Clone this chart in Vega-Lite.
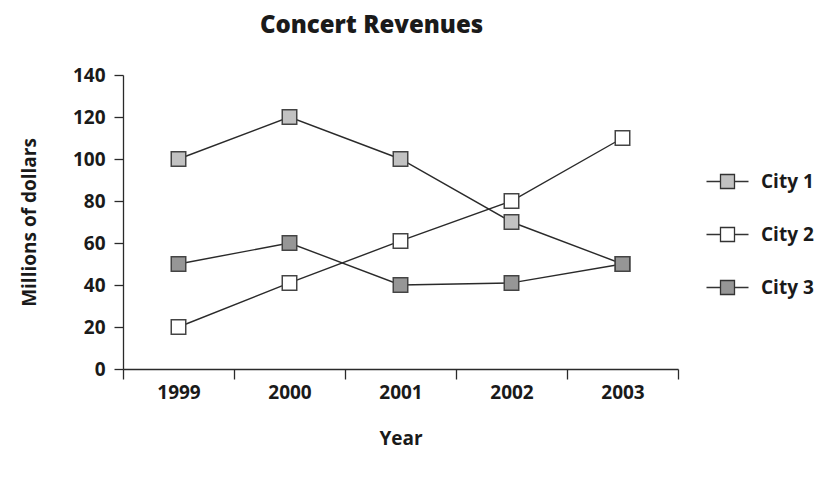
{
  "$schema": "https://vega.github.io/schema/vega-lite/v6.json",
  "autosize": {"type": "none"},
  "padding": {"left": 123, "top": 75, "right": 144, "bottom": 108},
  "width": 555,
  "height": 294,
  "background": "white",
  "title": {
    "text": "Concert Revenues",
    "font": "Open Sans",
    "fontSize": 24,
    "fontWeight": 800,
    "color": "#1a1a1a",
    "anchor": "middle",
    "dx": -29,
    "offset": 28
  },
  "data": {
    "values": [
      {"year": "1999", "city": "City 1", "revenue": 100},
      {"year": "2000", "city": "City 1", "revenue": 120},
      {"year": "2001", "city": "City 1", "revenue": 100},
      {"year": "2002", "city": "City 1", "revenue": 70},
      {"year": "2003", "city": "City 1", "revenue": 50},
      {"year": "1999", "city": "City 2", "revenue": 20},
      {"year": "2000", "city": "City 2", "revenue": 41},
      {"year": "2001", "city": "City 2", "revenue": 61},
      {"year": "2002", "city": "City 2", "revenue": 80},
      {"year": "2003", "city": "City 2", "revenue": 110},
      {"year": "1999", "city": "City 3", "revenue": 50},
      {"year": "2000", "city": "City 3", "revenue": 60},
      {"year": "2001", "city": "City 3", "revenue": 40},
      {"year": "2002", "city": "City 3", "revenue": 41},
      {"year": "2003", "city": "City 3", "revenue": 50}
    ]
  },
  "encoding": {
    "x": {
      "field": "year",
      "type": "ordinal",
      "bandPosition": 0.5,
      "scale": {"type": "band", "paddingInner": 0, "paddingOuter": 0},
      "axis": {
        "title": "Year",
        "labelAngle": 0,
        "tickBand": "extent",
        "tickSize": 10,
        "labelPadding": 4,
        "titlePadding": 27
      }
    },
    "y": {
      "field": "revenue",
      "type": "quantitative",
      "scale": {"domain": [0, 140], "nice": false},
      "axis": {
        "title": "Millions of dollars",
        "values": [0, 20, 40, 60, 80, 100, 120, 140],
        "tickSize": 9,
        "labelPadding": 9,
        "titlePadding": 33
      }
    }
  },
  "layer": [
    {
      "mark": {"type": "line", "color": "#2a2a2a", "strokeWidth": 1.4},
      "encoding": {"detail": {"field": "city"}}
    },
    {
      "mark": {"type": "point", "shape": "square", "filled": true, "size": 210, "opacity": 1, "stroke": "#444444", "strokeWidth": 1.5},
      "encoding": {
        "fill": {
          "field": "city",
          "type": "nominal",
          "scale": {"domain": ["City 1", "City 2", "City 3"], "range": ["#c2c2c2", "#ffffff", "#969696"]},
          "legend": {
            "title": null,
            "orient": "none",
            "legendX": 581,
            "legendY": 97,
            "symbolType": "M-3,0H-1M1,0H3M-1,-1H1V1H-1Z",
            "symbolSize": 196,
            "symbolStrokeColor": "#333333",
            "symbolStrokeWidth": 1.3,
            "symbolOffset": 14,
            "labelOffset": 24,
            "rowPadding": 32,
            "labelFont": "Open Sans",
            "labelFontSize": 19,
            "labelFontWeight": 700,
            "labelColor": "#1a1a1a"
          }
        }
      }
    }
  ],
  "config": {
    "view": {"stroke": null},
    "axis": {
      "grid": false,
      "domainColor": "#2a2a2a",
      "tickColor": "#2a2a2a",
      "domainWidth": 1.3,
      "tickWidth": 1.3,
      "labelFont": "Open Sans",
      "labelFontSize": 19,
      "labelFontWeight": 700,
      "labelColor": "#1a1a1a",
      "titleFont": "Open Sans",
      "titleFontSize": 19,
      "titleFontWeight": 700,
      "titleColor": "#1a1a1a"
    }
  }
}
